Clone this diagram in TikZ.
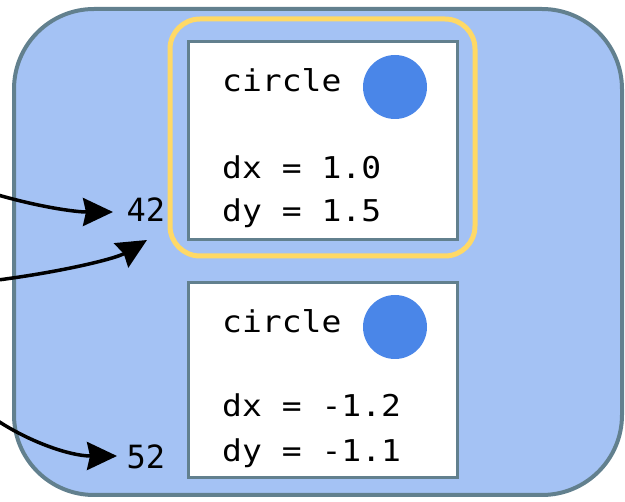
\documentclass[tikz,border=0pt]{standalone}
\usepackage{fontspec}
\newfontfamily\codefont[FakeStretch=1.1]{DejaVu Sans Mono}
\newfontfamily\lblfont{DejaVu Sans Mono}
\usetikzlibrary{arrows.meta}
\definecolor{outerfill}{HTML}{A4C2F4}
\definecolor{slate}{HTML}{62808E}
\definecolor{gold}{HTML}{FFD966}
\definecolor{dotblue}{HTML}{4A86E8}
\tikzset{
  outerbox/.style={draw=slate, line width=4pt, fill=outerfill, rounded corners=80pt},
  selbox/.style={draw=gold, line width=5pt, rounded corners=30pt},
  objbox/.style={draw=slate, line width=3pt, fill=white},
  dot/.style={fill=dotblue, draw=none},
  code/.style={font=\codefont\fontsize{30}{36}\selectfont, inner sep=0pt, anchor=base west},
  lbl/.style={font=\lblfont\fontsize{32}{38}\selectfont, inner sep=0pt},
  ptr/.style={-{Stealth[length=30pt,width=28pt,inset=3pt]}, line width=3.5pt, black}
}
\begin{document}
\begin{tikzpicture}[x=1pt,y=-1pt]
\useasboundingbox (0,0) rectangle (625,502);
\draw[outerbox] (14,9) rectangle (622,495);
\draw[selbox] (170,19) rectangle (475,256);
\draw[objbox] (188,42) rectangle (457,240);
\draw[objbox] (188,283) rectangle (457,478);
\fill[dot] (395,87) circle (32);
\fill[dot] (395,327) circle (32);
\node[code] (c1) at (222,92) {circle};
\node[code] (dx1) at (222,179) {dx = 1.0};
\node[code] (dy1) at (222,222) {dy = 1.5};
\node[code] (c2) at (222,333) {circle};
\node[code] (dx2) at (222,417) {dx = -1.2};
\node[code] (dy2) at (222,462) {dy = -1.1};
\node[lbl] (n42) at (146,210) {42};
\node[lbl] (n52) at (146,457) {52};
\coordinate (s1) at (-2,195);
\coordinate (s2) at (-2,280);
\coordinate (s3) at (-2,421);
\coordinate (t1) at (113,212);
\coordinate (t2) at (147,240);
\coordinate (t3) at (117,456);
\draw[ptr] (s1) .. controls (40,207) and (75,212) .. (t1);
\draw[ptr] (s2) .. controls (60,272) and (115,259) .. (t2);
\draw[ptr] (s3) .. controls (30,442) and (70,456) .. (t3);
\end{tikzpicture}
\end{document}
